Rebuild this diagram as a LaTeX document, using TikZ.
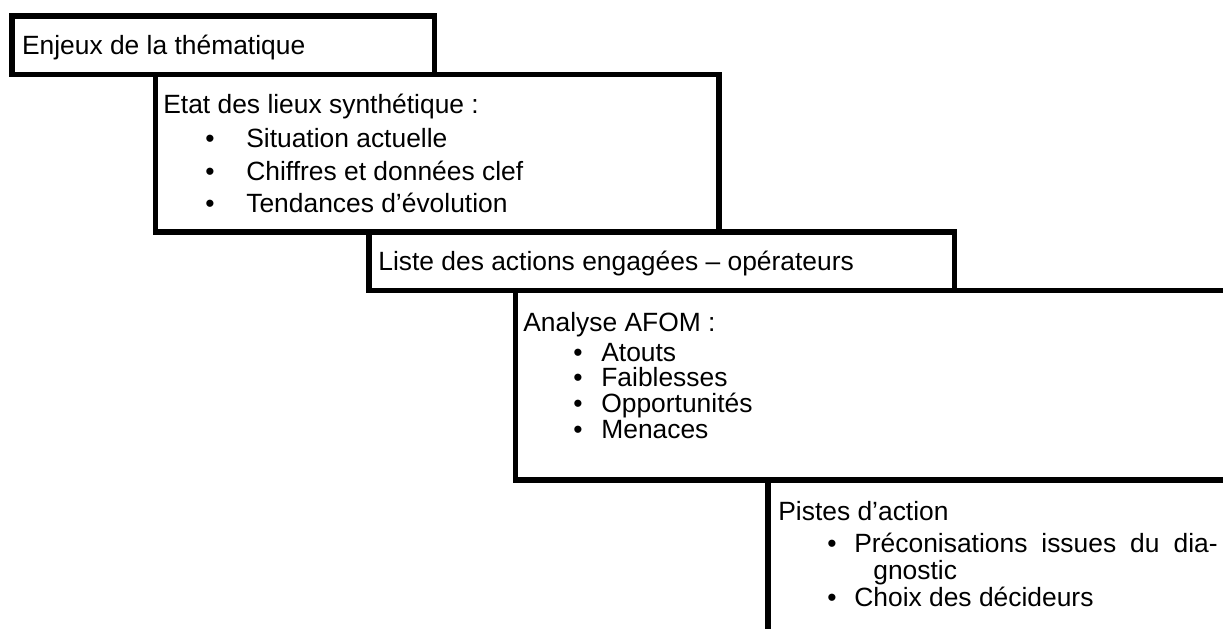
\documentclass[tikz,border=0pt]{standalone}
\usepackage{fontspec}
\setmainfont{Liberation Sans}
\begin{document}
\begin{tikzpicture}[x=0.6pt,y=-0.6pt,
  frame/.style={line width=3.3pt, draw=black, line join=miter},
  txt/.style={anchor=base west, inner sep=0pt, font=\fontsize{15.84pt}{19pt}\selectfont},
  bul/.style={anchor=base, inner sep=0pt, font=\fontsize{15.84pt}{19pt}\selectfont}]
\useasboundingbox (0,0) rectangle (1223,628);
\clip (0,0) rectangle (1223,628);
% boxes
\draw[frame] (12,16) rectangle (434.5,74.5);
\draw[frame] (155.5,74.5) rectangle (719,232);
\draw[frame] (369,232) rectangle (954.5,290.5);
\draw[frame] (515.5,290.5) rectangle (1240,480);
\draw[frame] (768,480) rectangle (1240,650);
% box 1
\node[txt] (t1) at (21.7,54) {Enjeux de la thématique};
% box 2
\node[txt] (t2) at (163,113) {Etat des lieux synthétique :};
\node[bul] (b21) at (210,147) {•};
\node[txt] (t21) at (246,147) {Situation actuelle};
\node[bul] (b22) at (210,180) {•};
\node[txt] (t22) at (246,180) {Chiffres et données clef};
\node[bul] (b23) at (210,212) {•};
\node[txt] (t23) at (246,212) {Tendances d’évolution};
% box 3
\node[txt] (t3) at (378,270.7) {Liste des actions engagées – opérateurs};
% box 4
\node[txt] (t4) at (523,331) {Analyse AFOM :};
\node[bul] (b41) at (578,361.7) {•};
\node[txt] (t41) at (601,361.7) {Atouts};
\node[bul] (b42) at (578,386.7) {•};
\node[txt] (t42) at (601,386.7) {Faiblesses};
\node[bul] (b43) at (578,412.7) {•};
\node[txt] (t43) at (601,412.7) {Opportunités};
\node[bul] (b44) at (578,438.3) {•};
\node[txt] (t44) at (601,438.3) {Menaces};
% box 5
\node[txt] (t5) at (778,520) {Pistes d’action};
\node[bul] (b51) at (832,552.7) {•};
\node[txt] (t51) at (854,552.7) {\makebox[218pt][s]{Préconisations issues du dia-}};
\node[txt] (t51b) at (873,579) {gnostic};
\node[bul] (b52) at (832,606) {•};
\node[txt] (t52) at (854,606) {Choix des décideurs};
\end{tikzpicture}
\end{document}
